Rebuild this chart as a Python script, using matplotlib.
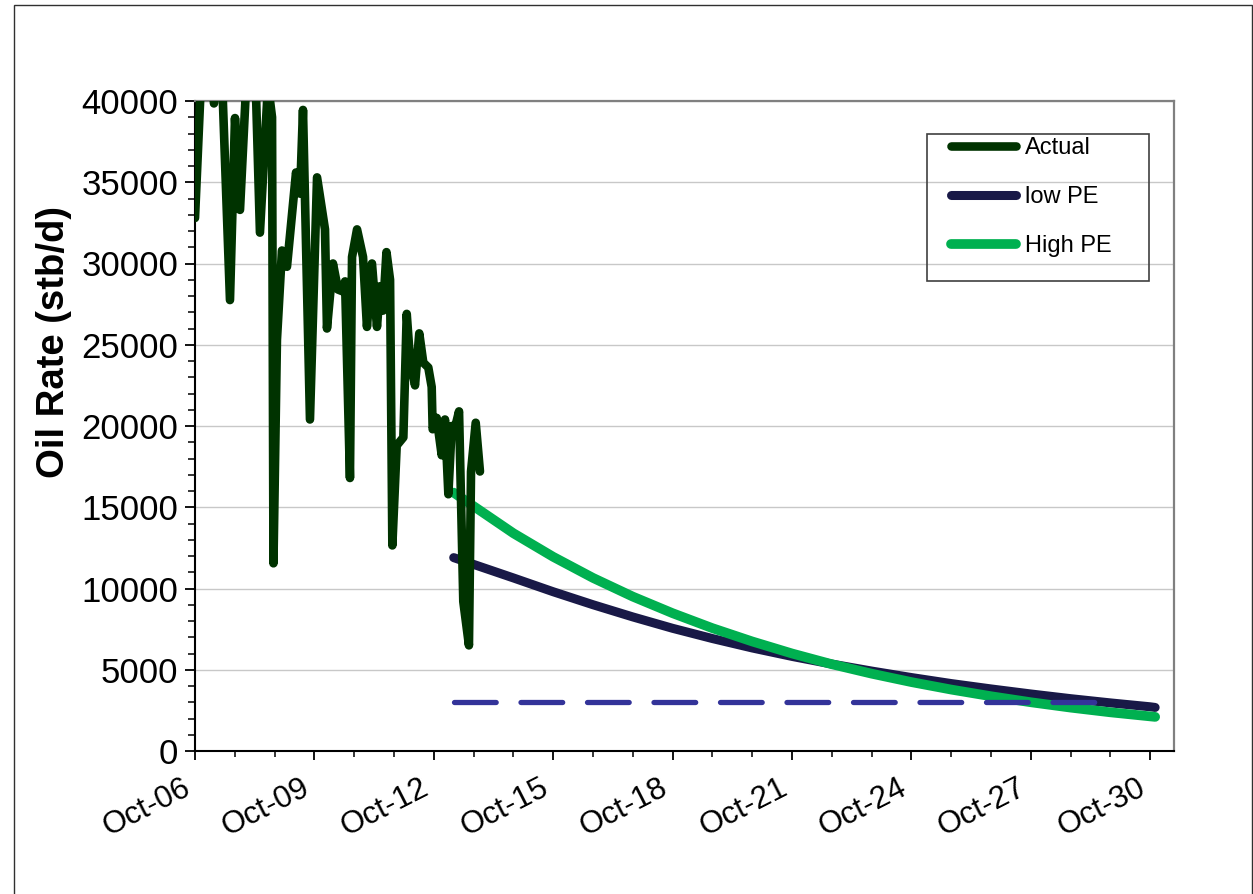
import matplotlib
matplotlib.use("Agg")
import matplotlib.pyplot as plt
import matplotlib.dates as mdates
from matplotlib.patches import Rectangle
from matplotlib.ticker import MultipleLocator, FixedLocator

plt.rcParams['font.family'] = ['Liberation Sans', 'DejaVu Sans']

# ---- data -------------------------------------------------------------
actual_dates = [
    "2006-10-01", "2006-11-30", "2007-01-28", "2007-03-24", "2007-05-18",
    "2007-08-18", "2007-10-03", "2007-11-18", "2008-01-21", "2008-04-04",
    "2008-05-19", "2008-08-01", "2008-09-07", "2008-09-20", "2008-10-22",
    "2008-12-07", "2009-01-22", "2009-04-15", "2009-05-22", "2009-06-18",
    "2009-08-21", "2009-10-25", "2010-01-06", "2010-01-24", "2010-03-20",
    "2010-05-05", "2010-06-11", "2010-07-09", "2010-08-23", "2010-09-11",
    "2010-10-27", "2010-12-21", "2011-01-26", "2011-03-13", "2011-04-28",
    "2011-05-26", "2011-06-22", "2011-07-24", "2011-08-26", "2011-09-16",
    "2011-10-26", "2011-12-26", "2012-01-26", "2012-02-25", "2012-04-11",
    "2012-05-20", "2012-06-26", "2012-08-11", "2012-09-11", "2012-09-20",
    "2012-10-27", "2012-12-12", "2013-01-11", "2013-02-11", "2013-03-14",
    "2013-04-13", "2013-05-20", "2013-06-28", "2013-08-19", "2013-09-07",
    "2013-10-20", "2013-11-28",
]
actual_rate = [
    32800, 42000, 45000, 39850, 45000,
    27750, 38950, 33300, 42000, 42500,
    31900, 41000, 39000, 11550, 25300,
    30800, 29800, 35600, 34300, 39450,
    20400, 35300, 32100, 26000, 30000,
    28400, 28300, 28900, 16800, 30400,
    32100, 30400, 26100, 30000, 26100,
    28600, 27100, 30700, 29000, 12650,
    18800, 19300, 26900, 24100, 22500,
    25700, 23900, 23600, 22400, 19800,
    20500, 18200, 20400, 15800, 20000,
    19900, 20900, 9200, 6500, 17200,
    20200, 17200,
]

forecast_dates = ["2013-04-01"] + [f"{y}-10-01" for y in range(2014, 2031)] + ["2030-11-15"]
low_pe = [11900, 10650, 9800, 9000, 8250, 7550, 6920, 6340, 5820, 5350,
          4920, 4520, 4150, 3820, 3510, 3220, 2960, 2720, 2680]
high_pe = [15900, 13400, 11950, 10650, 9500, 8480, 7560, 6740, 6000, 5340,
           4760, 4240, 3780, 3370, 3000, 2670, 2380, 2130, 2100]

limit_dates = ["2013-04-01", "2029-06-01"]
limit_rate = [3000, 3000]

tick_years = list(range(2006, 2031, 3))
minor_years = list(range(2006, 2031))

# ---- figure -----------------------------------------------------------
W, H = 1253, 894
fig = plt.figure(figsize=(W / 100, H / 100), dpi=100)
ax = fig.add_axes([195 / W, 1 - 751 / H, (1174 - 195) / W, (751 - 101) / H])

to_num = mdates.datestr2num

ln_low, = ax.plot(to_num(forecast_dates), low_pe, color='#191947', lw=6.5,
                  solid_capstyle='round', solid_joinstyle='round', zorder=3, label='low PE')
ln_high, = ax.plot(to_num(forecast_dates), high_pe, color='#00b050', lw=7.0,
                   solid_capstyle='round', solid_joinstyle='round', zorder=4, label='High PE')
ax.plot(to_num(limit_dates), limit_rate, color='#333399', lw=3.8,
        dashes=(7.9, 4.7), dash_capstyle='round', zorder=5)
ln_act, = ax.plot(to_num(actual_dates), actual_rate, color='#003300', lw=6.2,
                  solid_capstyle='round', solid_joinstyle='round', zorder=6, label='Actual')

# axes ranges
ax.set_ylim(0, 40000)
ax.set_xlim(to_num("2006-10-01"), to_num("2031-05-07"))

ax.yaxis.set_major_locator(MultipleLocator(5000))
ax.yaxis.set_minor_locator(MultipleLocator(1000))
ax.xaxis.set_major_locator(FixedLocator(to_num([f"{y}-10-01" for y in tick_years])))
ax.xaxis.set_minor_locator(FixedLocator(to_num([f"{y}-10-01" for y in minor_years])))
ax.xaxis.set_major_formatter(mdates.DateFormatter('%b-%y'))

ax.grid(axis='y', which='major', color='#c8c8c8', lw=1.0, zorder=0)
ax.set_axisbelow(True)

ax.tick_params(axis='y', which='major', length=7, width=1.3, direction='out',
               labelsize=25, pad=5, color='black')
ax.tick_params(axis='y', which='minor', length=5, width=1.1, direction='out', color='black')
ax.tick_params(axis='x', which='major', length=6.5, width=1.3, direction='out',
               labelsize=22.5, pad=9, color='black')
ax.tick_params(axis='x', which='minor', length=4.5, width=1.1, direction='out', color='black')
for lbl in ax.get_xticklabels():
    lbl.set_rotation(27)
    lbl.set_ha('right')
    lbl.set_va('top')

for side in ('left', 'bottom'):
    ax.spines[side].set_color('black')
    ax.spines[side].set_linewidth(1.5)
for side in ('top', 'right'):
    ax.spines[side].set_color('#808080')
    ax.spines[side].set_linewidth(1.6)

fig.text(54 / W, 1 - 342 / H, 'Oil Rate (stb/d)', rotation=90, fontsize=27.5,
         fontweight='bold', ha='center', va='center')

# legend
leg = ax.legend(handles=[ln_act, ln_low, ln_high], loc='upper left',
                bbox_to_anchor=(951 / W, 1 - 137 / H), bbox_transform=fig.transFigure,
                frameon=False, fontsize=17, handlelength=2.75, handletextpad=0.38,
                labelspacing=1.14, borderpad=0, borderaxespad=0)
for h in leg.get_lines():
    h.set_solid_capstyle('round')

fig.patches.append(Rectangle((927 / W, 1 - 281 / H), (1149 - 927) / W, (281 - 134) / H,
                             transform=fig.transFigure, fill=False,
                             edgecolor='#404040', lw=1.2, zorder=10))
# chart area border (runs past the lower edge of the canvas)
fig.patches.append(Rectangle((13.5 / W, -0.01), (1251.5 - 13.5) / W, 1.01 - 5 / H,
                             transform=fig.transFigure, fill=False,
                             edgecolor='#303030', lw=1.0))

fig.savefig('out.png', dpi=100)
